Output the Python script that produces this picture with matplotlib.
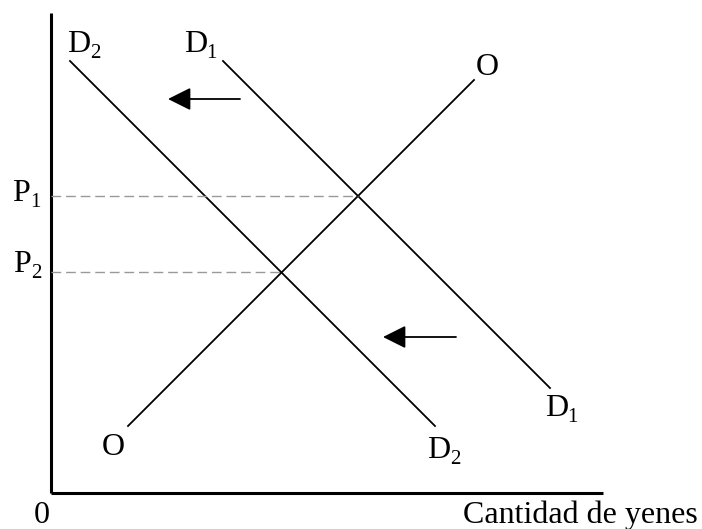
import matplotlib.pyplot as plt

plt.rcParams['font.family'] = 'Liberation Serif'

# curvas (extremos) en unidades del gráfico
d1_x = [172, 499]
d1_y = [432, 105]
d2_x = [19, 384]
d2_y = [432, 67]
o_x = [77, 423]
o_y = [67, 413]

# precios de equilibrio
precios = [297, 221]
cantidades = [307, 230]
etiquetas_p = [('P', '1'), ('P', '2')]

# flechas de desplazamiento (inicio, fin, altura)
flechas_x0 = [189, 405]
flechas_x1 = [117, 332]
flechas_y = [394, 156]

fig = plt.figure(figsize=(7.02, 5.29), dpi=100)
ax = fig.add_axes([0, 0, 1, 1])
ax.set_xlim(-51, 651)
ax.set_ylim(-36, 493)
ax.axis('off')

# ejes
ax.plot([0, 0], [0, 480], color='black', lw=2.2, solid_capstyle='butt')
ax.plot([0, 552], [0, 0], color='black', lw=2.2, solid_capstyle='butt')

# curvas
ax.plot(d1_x, d1_y, color='black', lw=1.3)
ax.plot(d2_x, d2_y, color='black', lw=1.3)
ax.plot(o_x, o_y, color='black', lw=1.3)

# líneas de precio
for p, q in zip(precios, cantidades):
    ax.plot([0, q], [p, p], color='#999999', lw=1.0, dashes=(7, 3.5))

# flechas
for x0, x1, y in zip(flechas_x0, flechas_x1, flechas_y):
    ax.annotate('', xy=(x1, y), xytext=(x0, y),
                arrowprops=dict(arrowstyle='-|>,head_length=0.7,head_width=0.35',
                                mutation_scale=20, color='black', lw=1.3,
                                shrinkA=0, shrinkB=0))

fs = 23
fs_sub = 15


def etiqueta(x, y, letra, sub, dx):
    ax.text(x, y, letra, fontsize=fs, ha='left', va='baseline')
    ax.text(x + dx, y - 6, sub, fontsize=fs_sub, ha='left', va='baseline')


etiqueta(16, 441, 'D', '2', 23)
etiqueta(133, 441, 'D', '1', 22)
etiqueta(376, 35, 'D', '2', 23)
etiqueta(494, 77, 'D', '1', 22)
etiqueta(-39, 292, etiquetas_p[0][0], etiquetas_p[0][1], 18)
etiqueta(-38, 221, etiquetas_p[1][0], etiquetas_p[1][1], 18)

ax.text(425, 418, 'O', fontsize=fs, ha='left', va='baseline')
ax.text(51, 38, 'O', fontsize=fs, ha='left', va='baseline')
ax.text(-17, -30, '0', fontsize=fs, ha='left', va='baseline')
ax.text(647, -30, 'Cantidad de yenes', fontsize=fs, ha='right', va='baseline')

fig.savefig('out.png', dpi=100)
